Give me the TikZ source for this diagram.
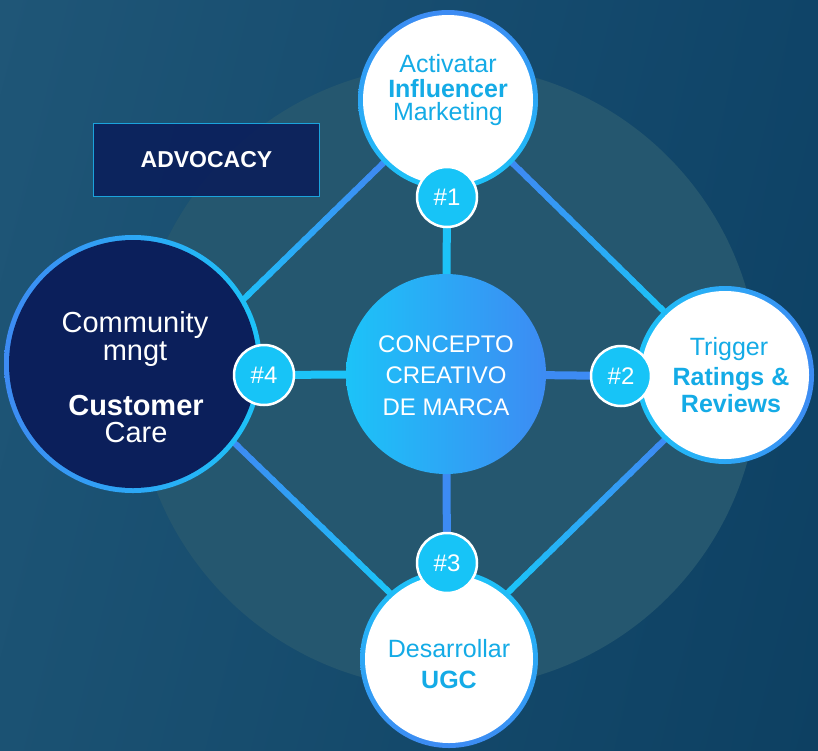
\documentclass[tikz,border=0pt]{standalone}
\usepackage{fontspec}
\setmainfont{Liberation Sans}
\usetikzlibrary{calc,shadings}
\definecolor{bgA}{HTML}{1F5677}
\definecolor{bgB}{HTML}{0F4468}
\definecolor{bgC}{HTML}{1B5273}
\definecolor{bgD}{HTML}{0D4062}
\definecolor{bigc}{HTML}{25576F}
\definecolor{cy}{HTML}{1CC3F8}
\definecolor{bl}{HTML}{3D8BF3}
\definecolor{bdg}{HTML}{17C4F7}
\definecolor{navy}{HTML}{0B1F5B}
\definecolor{advb}{HTML}{1BA3DC}
\definecolor{txc}{HTML}{14ABE6}
\newcommand\gradline[2]{%
  \foreach \i in {0,...,39}{%
    \pgfmathsetmacro\ga{\i/40}%
    \pgfmathsetmacro\gb{min(1,(\i+1.4)/40)}%
    \pgfmathsetmacro\gc{min(100,max(0,(\ga-0.24)/0.52*100))}%
    \draw[diag, color=cy!\gc!bl] ($(#1)!\ga!(#2)$) -- ($(#1)!\gb!(#2)$);
  }%
}
\begin{document}
\begin{tikzpicture}[x=1pt,y=-1pt,
  diag/.style={line width=6pt},
  spoke/.style={line width=8pt},
  ring/.style={circle, inner sep=0pt, outer sep=0pt},
  badge/.style={circle, minimum size=60pt, inner sep=0pt, fill=bdg, draw=white, line width=2.5pt, text=white, font=\fontsize{24}{24}\selectfont},
  lbl/.style={anchor=base, inner sep=0pt, text=txc, font=\fontsize{25}{25}\selectfont},
  lblb/.style={lbl, font=\bfseries\fontsize{25}{25}\selectfont},
  wlbl/.style={anchor=base, inner sep=0pt, text=white, font=\fontsize{29}{29}\selectfont},
  clbl/.style={anchor=base, inner sep=0pt, text=white, font=\fontsize{24}{24}\selectfont}
]
\useasboundingbox (0,0) rectangle (818,750);
\shade[upper left=bgA, upper right=bgB, lower left=bgC, lower right=bgD] (0,0) rectangle (818,750);
\fill[bigc] (447,377) circle[radius=312];

% diamond vertices
\coordinate (dt) at (448,100);
\coordinate (dr) at (730,376);
\coordinate (db) at (449,650);
\coordinate (dl) at (165,376);
\gradline{dt}{dl}
\gradline{dt}{dr}
\gradline{dr}{db}
\gradline{dl}{db}

% nodes
\node[ring, minimum size=180pt, top color=bl, bottom color=cy] (r1) at (448,100) {};
\node[ring, minimum size=170pt, fill=white] (c1) at (448,100) {};
\node[ring, minimum size=178pt, left color=cy, right color=bl] (r2) at (725,375) {};
\node[ring, minimum size=168pt, fill=white] (c2) at (725,375) {};
\node[ring, minimum size=178pt, top color=cy, bottom color=bl] (r3) at (449,659) {};
\node[ring, minimum size=168pt, fill=white] (c3) at (449,659) {};
\node[ring, minimum size=258pt, left color=bl, right color=cy] (r4) at (133,364) {};
\node[ring, minimum size=248pt, fill=navy] (c4) at (133,364) {};

% spoke end points (badge centres) and centre
\coordinate (p1) at (447,197);
\coordinate (p2) at (621,376);
\coordinate (p3) at (447,563);
\coordinate (p4) at (264,375);
\coordinate (pc) at (446,374);
\draw[spoke, cy] (pc) -- (p1);
\draw[spoke, bl] (pc) -- (p3);
\draw[spoke, cy] (pc) -- (p4);
\draw[spoke, bl] (pc) -- (p2);

\node[ring, minimum size=200pt, left color=cy, right color=bl] (cc) at (pc) {};
\node[badge] (b1) at (p1) {\#1};
\node[badge] (b2) at (p2) {\#2};
\node[badge] (b3) at (p3) {\#3};
\node[badge] (b4) at (p4) {\#4};

% center text
\node[clbl] (t0a) at (446,352) {CONCEPTO};
\node[clbl] (t0b) at (446,383) {CREATIVO};
\node[clbl] (t0c) at (446,415) {DE MARCA};

% top text
\node[lbl] (t1a) at (448,72) {Activatar};
\node[lblb] (t1b) at (448,97) {Influencer};
\node[lbl] (t1c) at (448,120) {Marketing};

% right text
\node[lbl] (t2a) at (729,355) {Trigger};
\node[lblb] (t2b) at (731,385) {Ratings \&};
\node[lblb] (t2c) at (731,412) {Reviews};

% bottom text
\node[lbl] (t3a) at (449,657) {Desarrollar};
\node[lblb] (t3b) at (449,688) {UGC};

% left text
\node[wlbl] (t4a) at (135,332) {Community};
\node[wlbl] (t4b) at (135,360) {mngt};
\node[wlbl, font=\bfseries\fontsize{29}{29}\selectfont] (t4c) at (136,415) {Customer};
\node[wlbl] (t4d) at (136,442) {Care};

% advocacy
\node[draw=advb, line width=1pt, fill=navy, fill opacity=0.9, text opacity=1, minimum width=226pt, minimum height=73pt, inner sep=0pt, text=white, font=\bfseries\fontsize{23}{23}\selectfont] (adv) at (206.5,160) {ADVOCACY};
\end{tikzpicture}
\end{document}
